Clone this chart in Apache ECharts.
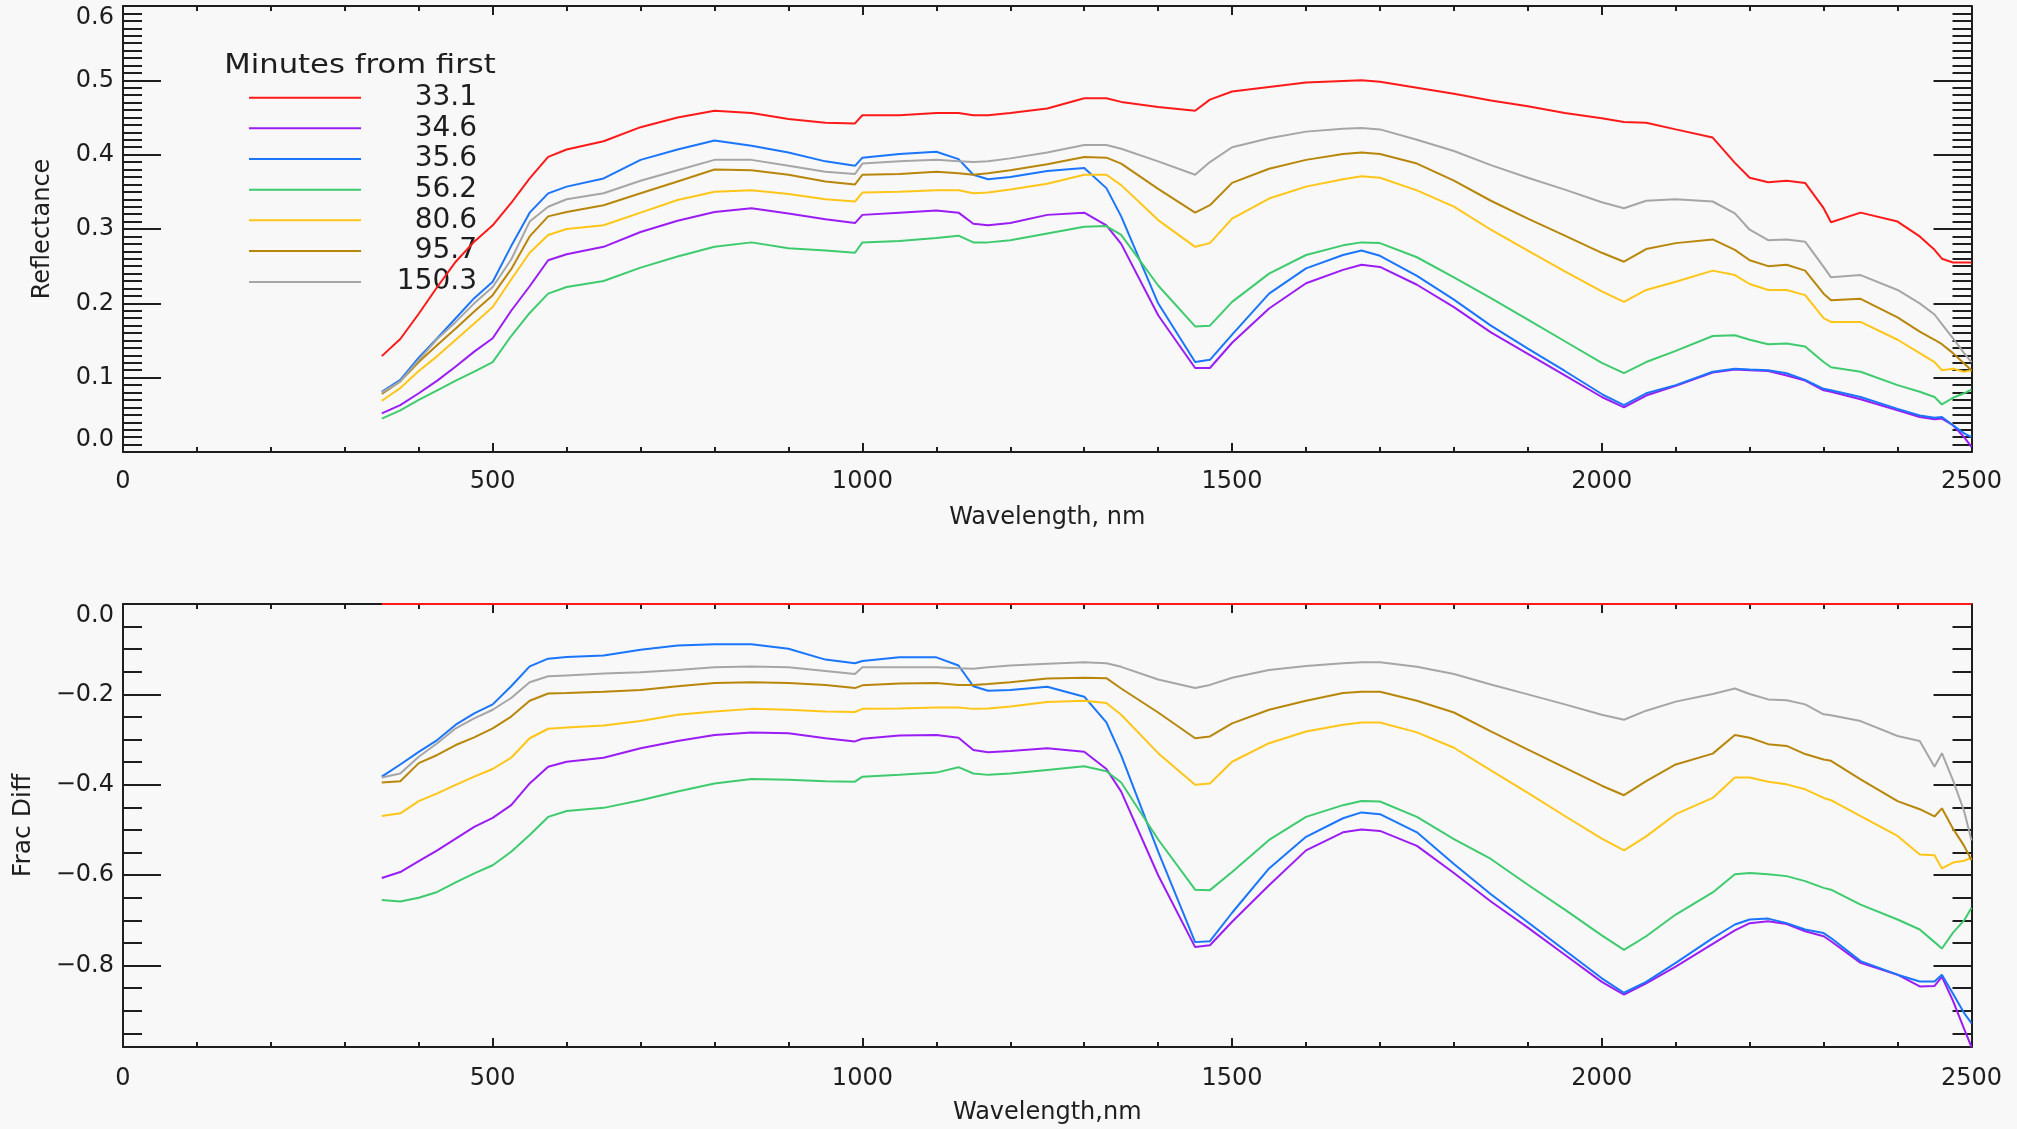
<!DOCTYPE html>
<html><head><meta charset="utf-8">
<script src="https://cdn.jsdelivr.net/npm/echarts@6/dist/echarts.min.js"></script>
<style>html,body{margin:0;padding:0;background:#f8f8f8;}#chart{width:2017px;height:1129px;}</style>
</head><body><div id="chart"></div>
<script>
// ---------------- DATA ----------------
const wavelengths = [350,375,400,425,450,475,500,525,550,575,
 600,650,700,750,800,850,900,950,990,1000,
 1050,1100,1130,1150,1170,1200,1250,1300,1330,1350,
 1400,1450,1470,1500,1550,1600,1650,1675,1700,1750,
 1800,1850,1900,1950,2000,2030,2060,2100,2150,2180,
 2200,2225,2250,2275,2300,2310,2350,2400,2430,2450,
 2460,2475,2490,2500];

const seriesNames = ['33.1','34.6','35.6','56.2','80.6','95.7','150.3'];
const legendTitle = 'Minutes from first';

// Reflectance (top panel)
const refl331 = [.129,.152,.186,.222,.256,.283,.305,.335,.368,.397,
 .407,.418,.437,.450,.459,.456,.448,.443,.442,.453,
 .453,.456,.456,.453,.453,.456,.462,.476,.476,.471,
 .464,.459,.474,.485,.491,.497,.499,.500,.498,.490,
 .482,.473,.465,.456,.449,.444,.443,.434,.423,.389,
 .369,.363,.365,.362,.328,.309,.322,.310,.290,.272,
 .260,.255,.255,.255];
const refl346 = [.052,.063,.079,.096,.115,.135,.153,.190,.223,.258,
 .266,.276,.296,.311,.323,.328,.321,.313,.308,.319,
 .322,.325,.322,.307,.305,.308,.319,.322,.305,.280,
 .184,.113,.113,.147,.193,.227,.245,.252,.249,.225,
 .195,.161,.132,.103,.074,.060,.076,.089,.107,.111,
 .110,.109,.103,.096,.083,.081,.071,.056,.047,.044,
 .045,.036,.020,.007];
const refl356 = [.081,.097,.127,.153,.180,.207,.229,.277,.322,.348,
 .357,.368,.393,.407,.419,.412,.403,.391,.385,.396,
 .401,.404,.394,.373,.367,.370,.378,.382,.355,.317,
 .200,.121,.124,.158,.213,.247,.265,.271,.264,.237,
 .205,.170,.139,.109,.078,.063,.079,.090,.108,.112,
 .111,.110,.106,.097,.085,.083,.074,.058,.049,.046,
 .047,.036,.025,.020];
const refl562 = [.045,.056,.070,.083,.096,.108,.121,.156,.187,.213,
 .222,.230,.248,.263,.276,.282,.274,.271,.268,.282,
 .284,.288,.291,.282,.282,.285,.294,.303,.304,.292,
 .224,.169,.170,.202,.240,.265,.278,.282,.281,.262,
 .235,.207,.178,.149,.120,.106,.121,.136,.156,.157,
 .151,.145,.146,.142,.121,.114,.108,.090,.081,.074,
 .064,.073,.079,.084];
const refl806 = [.069,.086,.109,.129,.151,.173,.195,.232,.268,.292,
 .300,.305,.322,.339,.350,.352,.347,.340,.337,.349,
 .350,.352,.352,.348,.349,.353,.361,.373,.373,.359,
 .312,.276,.281,.314,.341,.357,.367,.371,.369,.352,
 .330,.299,.271,.243,.216,.202,.218,.229,.244,.238,
 .226,.218,.218,.211,.180,.175,.175,.151,.133,.121,
 .110,.112,.108,.110];
const refl957 = [.078,.095,.121,.144,.166,.189,.211,.246,.290,.317,
 .323,.332,.348,.364,.380,.379,.373,.364,.360,.373,
 .374,.377,.375,.373,.375,.379,.387,.397,.396,.388,
 .354,.322,.332,.362,.381,.393,.401,.403,.401,.388,
 .365,.338,.314,.291,.268,.256,.273,.281,.286,.272,
 .258,.250,.252,.244,.213,.204,.206,.181,.162,.151,
 .145,.133,.119,.110];
const refl1503 = [.080,.095,.124,.152,.175,.200,.222,.259,.310,.330,
 .340,.348,.365,.379,.393,.393,.385,.377,.374,.388,
 .391,.393,.391,.390,.391,.395,.403,.413,.413,.408,
 .391,.373,.390,.410,.422,.431,.435,.436,.434,.420,
 .405,.386,.369,.353,.336,.328,.338,.340,.337,.321,
 .299,.285,.286,.283,.249,.235,.238,.218,.200,.185,
 .172,.153,.133,.121];

// Fractional difference (bottom panel)
const diff331 = [0,0,0,0,0,0,0,0,0,0,
 0,0,0,0,0,0,0,0,0,0,
 0,0,0,0,0,0,0,0,0,0,
 0,0,0,0,0,0,0,0,0,0,
 0,0,0,0,0,0,0,0,0,0,
 0,0,0,0,0,0,0,0,0,0,
 0,0,0,0];
const diff346 = [-.606,-.593,-.569,-.545,-.519,-.493,-.473,-.445,-.397,-.360,
 -.349,-.340,-.319,-.303,-.290,-.284,-.286,-.297,-.304,-.298,
 -.291,-.290,-.296,-.323,-.328,-.325,-.319,-.327,-.365,-.415,
 -.600,-.759,-.755,-.703,-.622,-.545,-.505,-.499,-.502,-.535,
 -.595,-.658,-.716,-.776,-.836,-.864,-.839,-.802,-.752,-.722,
 -.706,-.702,-.708,-.724,-.735,-.746,-.794,-.820,-.846,-.845,
 -.825,-.878,-.940,-.980];
const diff356 = [-.382,-.355,-.327,-.301,-.267,-.242,-.222,-.182,-.138,-.121,
 -.117,-.114,-.101,-.092,-.089,-.089,-.099,-.123,-.131,-.126,
 -.118,-.118,-.136,-.182,-.192,-.190,-.183,-.205,-.262,-.335,
 -.548,-.748,-.746,-.683,-.585,-.515,-.474,-.461,-.465,-.505,
 -.575,-.642,-.704,-.766,-.828,-.860,-.836,-.794,-.739,-.709,
 -.698,-.696,-.706,-.720,-.728,-.739,-.790,-.820,-.835,-.835,
 -.820,-.862,-.905,-.927];
const diff562 = [-.655,-.658,-.650,-.637,-.616,-.596,-.578,-.548,-.511,-.471,
 -.458,-.451,-.434,-.415,-.397,-.387,-.389,-.392,-.393,-.382,
 -.378,-.373,-.361,-.375,-.378,-.375,-.367,-.359,-.370,-.395,
 -.521,-.632,-.633,-.593,-.522,-.471,-.445,-.436,-.437,-.471,
 -.520,-.564,-.621,-.676,-.733,-.765,-.735,-.687,-.638,-.598,
 -.595,-.598,-.602,-.613,-.628,-.632,-.665,-.698,-.720,-.748,
 -.762,-.727,-.700,-.672];
const diff806 = [-.469,-.463,-.436,-.419,-.400,-.382,-.365,-.340,-.297,-.276,
 -.273,-.269,-.259,-.245,-.238,-.232,-.234,-.238,-.239,-.232,
 -.231,-.229,-.229,-.232,-.231,-.227,-.217,-.214,-.219,-.245,
 -.330,-.400,-.397,-.349,-.308,-.282,-.267,-.262,-.262,-.284,
 -.318,-.368,-.418,-.469,-.519,-.545,-.514,-.465,-.429,-.384,
 -.384,-.393,-.399,-.410,-.429,-.434,-.469,-.513,-.554,-.556,
 -.585,-.572,-.568,-.561];
const diff957 = [-.395,-.392,-.352,-.334,-.312,-.295,-.275,-.249,-.214,-.198,
 -.197,-.194,-.190,-.182,-.175,-.173,-.175,-.179,-.186,-.180,
 -.176,-.175,-.179,-.179,-.177,-.173,-.165,-.163,-.164,-.187,
 -.240,-.297,-.293,-.264,-.234,-.214,-.197,-.194,-.194,-.214,
 -.240,-.282,-.322,-.362,-.402,-.423,-.392,-.355,-.331,-.290,
 -.296,-.310,-.314,-.332,-.344,-.347,-.388,-.436,-.454,-.470,
 -.452,-.497,-.535,-.567];
const diff1503 = [-.384,-.375,-.338,-.308,-.275,-.253,-.234,-.208,-.173,-.160,
 -.158,-.154,-.151,-.146,-.140,-.138,-.140,-.148,-.155,-.140,
 -.140,-.140,-.142,-.143,-.140,-.136,-.132,-.129,-.131,-.139,
 -.167,-.186,-.179,-.163,-.146,-.137,-.131,-.129,-.129,-.139,
 -.155,-.178,-.200,-.222,-.245,-.256,-.236,-.216,-.199,-.187,
 -.199,-.211,-.213,-.222,-.244,-.246,-.259,-.292,-.303,-.360,
 -.330,-.390,-.458,-.523];

const reflSeries = [refl331, refl346, refl356, refl562, refl806, refl957, refl1503];
const diffSeries = [diff331, diff346, diff356, diff562, diff806, diff957, diff1503];

// ---------------- STYLE ----------------
const seriesColors = ['#ff1a1a','#9b1cf5','#1a75ff','#3ecb6e','#ffc619','#b8860b','#a6a6a6'];
const INK = '#1e1e1e';
const FONT = 'DejaVu Sans';

function xAxisDef(grid, pos, showLabels, name, margin) {
  return {
    type: 'value', gridIndex: grid, position: pos, min: 0, max: 2500, interval: 500,
    axisLine: {show: true, onZero: false, lineStyle: {color: INK, width: 2}},
    axisTick: {show: true, inside: true, length: 9, lineStyle: {color: INK, width: 2}},
    minorTick: {show: true, splitNumber: 5, length: 5, lineStyle: {color: INK, width: 2}},
    splitLine: {show: false}, minorSplitLine: {show: false},
    axisLabel: {show: showLabels, margin: margin, fontFamily: FONT, fontSize: 24, color: INK,
      formatter: v => String(Math.round(v))},
    name: name || '', nameLocation: 'middle', nameGap: 54,
    nameTextStyle: {fontFamily: FONT, fontSize: 24, color: INK},
    silent: true
  };
}
function yAxisDef(grid, pos, showLabels, opts) {
  return Object.assign({
    type: 'value', gridIndex: grid, position: pos,
    axisLine: {show: true, onZero: false, lineStyle: {color: INK, width: 2}},
    axisTick: {show: true, inside: true, length: 38, lineStyle: {color: INK, width: 2}},
    splitLine: {show: false}, minorSplitLine: {show: false},
    nameLocation: 'middle', nameRotate: 90,
    silent: true
  }, opts, {
    axisLabel: Object.assign({show: showLabels, margin: 9, fontFamily: FONT, fontSize: 24, color: INK}, opts.axisLabel || {})
  });
}

const topY = {
  min: 0, max: 0.6, interval: 0.1,
  minorTick: {show: true, splitNumber: 10, length: 19, lineStyle: {color: INK, width: 2}},
  axisLabel: {formatter: v => v.toFixed(1), verticalAlignMinLabel: 'bottom', verticalAlignMaxLabel: 'top'}
};
const botY = {
  min: -0.98, max: 0, splitNumber: 5,
  minorTick: {show: true, splitNumber: 4, length: 19, lineStyle: {color: INK, width: 2}},
  axisLabel: {showMinLabel: false, verticalAlignMaxLabel: 'top',
    formatter: v => (v < 0 ? '\u2212' : '') + Math.abs(v).toFixed(1)}
};

const series = [];
reflSeries.forEach((arr, i) => {
  series.push({type: 'line', name: seriesNames[i], xAxisIndex: 0, yAxisIndex: 0,
    data: wavelengths.map((w, k) => [w, arr[k]]), showSymbol: false, symbol: 'none',
    clip: false, lineStyle: {color: seriesColors[i], width: 2}, itemStyle: {color: seriesColors[i]},
    emphasis: {disabled: true}, silent: true, animation: false});
});
diffSeries.forEach((arr, i) => {
  series.push({type: 'line', name: seriesNames[i] + ' diff', xAxisIndex: 2, yAxisIndex: 2,
    data: wavelengths.map((w, k) => [w, arr[k]]), showSymbol: false, symbol: 'none',
    clip: false, lineStyle: {color: seriesColors[i], width: 2}, itemStyle: {color: seriesColors[i]},
    emphasis: {disabled: true}, silent: true, animation: false});
});

// legend drawn as graphic
const legendRowY = [97.7, 128.3, 159, 189.7, 220.3, 251, 282];
const graphic = [{
  type: 'text', x: 360, y: 66, scaleX: 1.18, silent: true,
  style: {text: legendTitle, x: 0, y: 0, font: '26px "DejaVu Sans"', fill: INK,
    align: 'center', verticalAlign: 'middle', textAlign: 'center', textVerticalAlign: 'middle'}
}];
seriesNames.forEach((n, i) => {
  graphic.push({type: 'line', silent: true,
    shape: {x1: 249, y1: legendRowY[i], x2: 361, y2: legendRowY[i]},
    style: {stroke: seriesColors[i], lineWidth: 2}});
  graphic.push({type: 'text', silent: true, x: 477, y: legendRowY[i],
    style: {text: n, x: 0, y: 0, font: '28px "DejaVu Sans"', fill: INK,
      align: 'right', verticalAlign: 'middle', textAlign: 'right', textVerticalAlign: 'middle'}});
});

const chart = echarts.init(document.getElementById('chart'), null, {renderer: 'canvas'});
chart.setOption({
  animation: false,
  backgroundColor: '#f8f8f8',
  grid: [
    {left: 123, right: 45.5, top: 6, height: 446, containLabel: false, outerBoundsMode: 'none'},
    {left: 123, right: 45.5, top: 604, height: 443, containLabel: false, outerBoundsMode: 'none'}
  ],
  xAxis: [
    xAxisDef(0, 'bottom', true, 'Wavelength, nm', 18),
    xAxisDef(0, 'top', false, '', 8),
    xAxisDef(1, 'bottom', true, 'Wavelength,nm', 20),
    xAxisDef(1, 'top', false, '', 8)
  ],
  yAxis: [
    yAxisDef(0, 'left', true, Object.assign({name: 'Reflectance', nameGap: 68,
      nameTextStyle: {fontFamily: FONT, fontSize: 24, color: INK}}, topY)),
    yAxisDef(0, 'right', false, topY),
    yAxisDef(1, 'left', true, Object.assign({name: 'Frac Diff', nameGap: 87,
      nameTextStyle: {fontFamily: FONT, fontSize: 25, color: INK}}, botY)),
    yAxisDef(1, 'right', false, botY)
  ],
  graphic: graphic,
  series: series
});
</script></body></html>
